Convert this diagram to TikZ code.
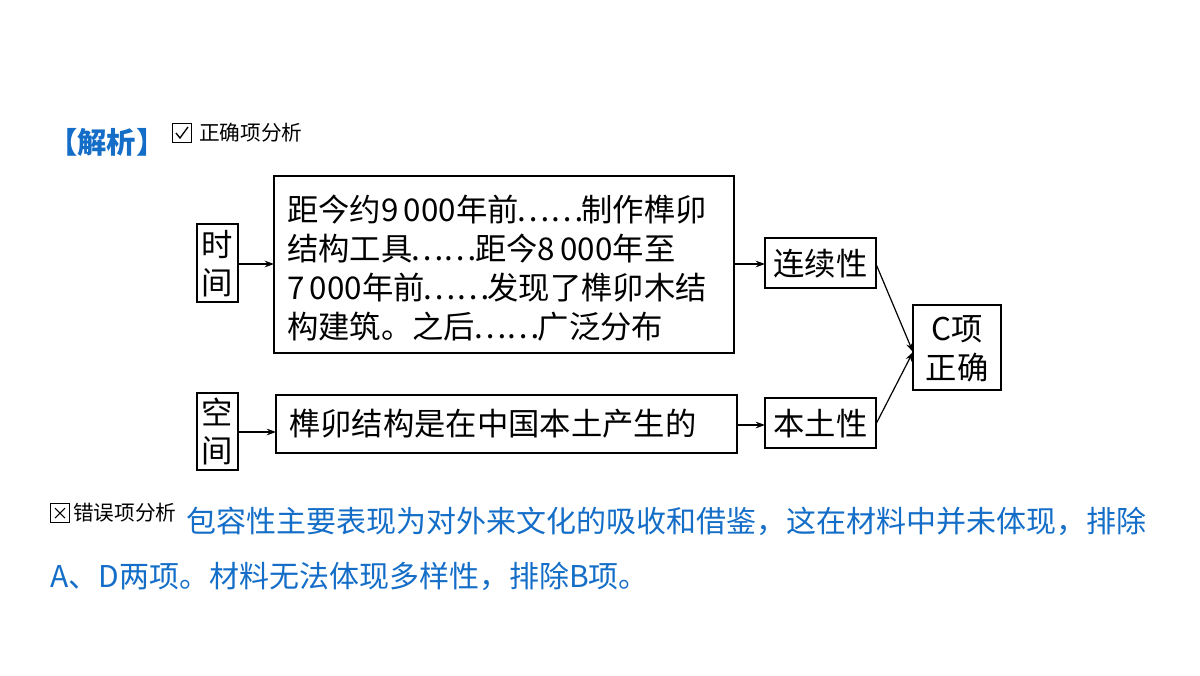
\documentclass[tikz,border=0pt]{standalone}
\usepackage{fontspec}
\setmainfont{Noto Sans CJK SC}
\newfontfamily\cjk{Noto Sans CJK SC}
\usetikzlibrary{arrows.meta}
\definecolor{myblue}{RGB}{20,110,200}
\newcommand{\dd}{\makebox[2em][c]{⋯⋯}}
\begin{document}
\begin{tikzpicture}[x=0.75pt,y=-0.75pt,
  bx/.style={draw,line width=1.2pt},
  arr/.style={-{Stealth[length=7pt,width=5pt]},line width=0.9pt},
  bt/.style={font=\fontsize{23.5}{28}\selectfont,inner sep=0pt,anchor=west}]
\useasboundingbox (0,0) rectangle (1200,675);
\node[font=\fontsize{22}{26}\selectfont\bfseries,text=myblue,anchor=west,inner sep=0] (jx) at (48,142) {【解析】};
\node[draw,minimum size=14pt,inner sep=0,line width=0.8pt] (cb1) at (182,133) {};
\draw[line width=1pt] (176,133) -- (180,138) -- (188,127);
\node[font=\fontsize{15.5}{18}\selectfont,anchor=west,inner sep=0] (zq) at (199,133) {正确项分析};
% boxes
\draw[bx] (197,224) rectangle (238,302);
\node[bt,anchor=center] at (217.5,245) {时}; \node[bt,anchor=center] at (217.5,283) {间};
\draw[bx] (274,176) rectangle (734,353);
\node[bt] (l1) at (287,210) {距今约9\,000年前\dd 制作榫卯};
\node[bt] (l2) at (287,249) {结构工具\dd 距今8\,000年至};
\node[bt] (l3) at (287,288) {7\,000年前\dd 发现了榫卯木结};
\node[bt] (l4) at (287,327) {构建筑。之后\dd 广泛分布};
\draw[bx] (765,238) rectangle (876,288);
\node[bt,anchor=center] (lx) at (820.5,264) {连续性};
\draw[bx] (913,305) rectangle (1001,390);
\node[bt,anchor=center] at (957,329) {C项};
\node[bt,anchor=center] at (957,368) {正确};
\draw[bx] (197,393) rectangle (238,470);
\node[bt,anchor=center] at (217.5,412) {空}; \node[bt,anchor=center] at (217.5,451) {间};
\draw[bx] (276,395) rectangle (737,453);
\node[bt] (sm) at (289,424) {榫卯结构是在中国本土产生的};
\draw[bx] (765,398) rectangle (876,448);
\node[bt,anchor=center] (bt2) at (820.5,424) {本土性};
% arrows
\coordinate (a1) at (238,264); \coordinate (a2) at (274,264);
\draw[arr] (a1) -- (a2);
\coordinate (b1) at (734,264); \coordinate (b2) at (765,264);
\draw[arr] (b1) -- (b2);
\coordinate (c1) at (238,432); \coordinate (c2) at (276,432);
\draw[arr] (c1) -- (c2);
\coordinate (d1) at (737,425); \coordinate (d2) at (765,425);
\draw[arr] (d1) -- (d2);
\coordinate (e1) at (876,264); \coordinate (e2) at (913,352);
\draw[arr] (e1) -- (e2);
\coordinate (f1) at (876,424); \coordinate (f2) at (913,352);
\draw[arr] (f1) -- (f2);
% bottom
\node[draw,minimum size=14pt,inner sep=0,line width=0.8pt] (cb2) at (60,513) {};
\draw[line width=0.8pt] (55,508) -- (65,518) (65,508) -- (55,518);
\node[font=\fontsize{15.5}{18}\selectfont,anchor=west,inner sep=0] (cw) at (73,513) {错误项分析};
\node[font=\fontsize{22.5}{26}\selectfont,text=myblue,anchor=west,inner sep=0] (t1) at (186,521) {包容性主要表现为对外来文化的吸收和借鉴，这在材料中并未体现，排除};
\node[font=\fontsize{22.5}{26}\selectfont,text=myblue,anchor=west,inner sep=0] (t2) at (50,576) {A、D两项。材料无法体现多样性，排除B项。};
\end{tikzpicture}
\end{document}
